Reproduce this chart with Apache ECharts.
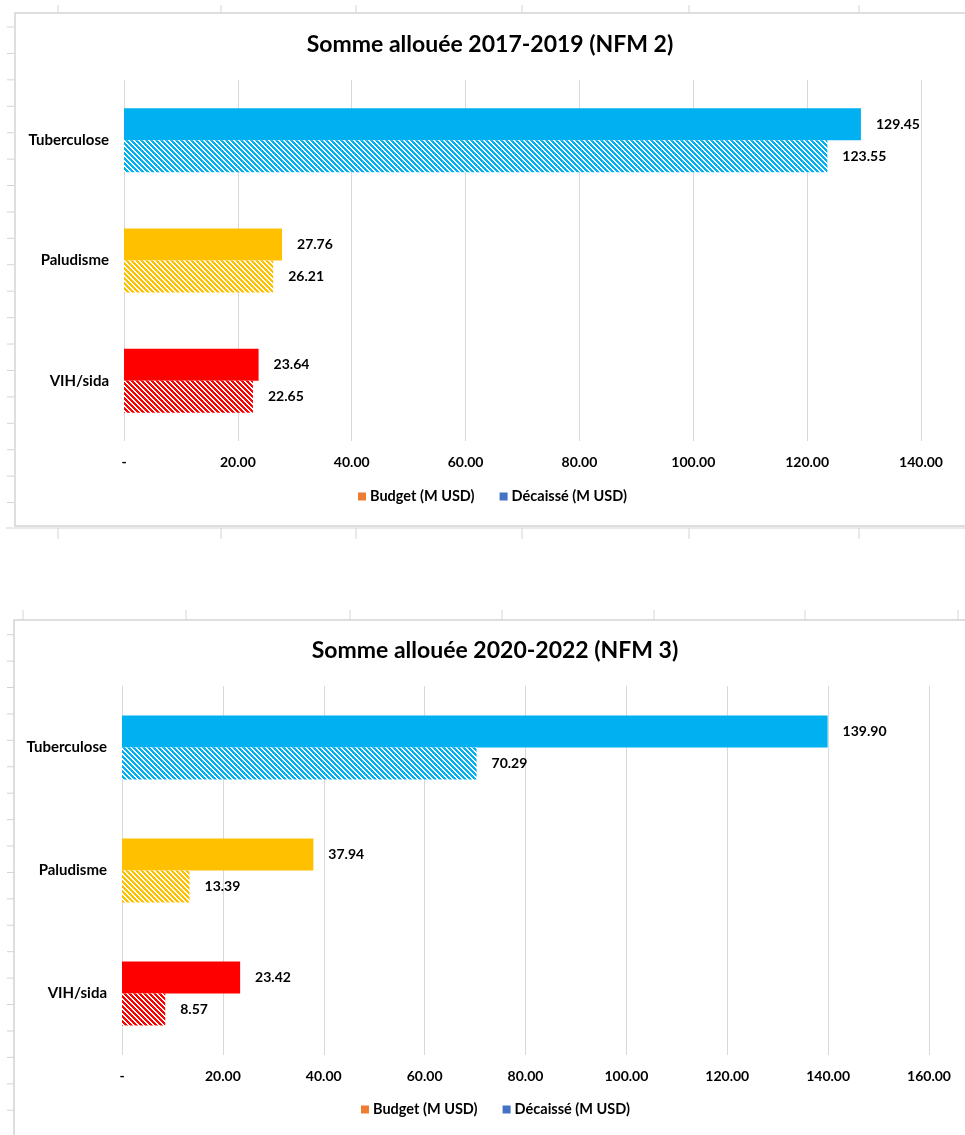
<!DOCTYPE html>
<html>
<head>
<meta charset="utf-8">
<script src="https://cdn.jsdelivr.net/npm/echarts@6/dist/echarts.min.js"></script>
<style>html,body{margin:0;padding:0;background:#fff;}#c{width:965px;height:1135px;}</style>
</head>
<body>
<div id="c"></div>
<script>
// ---- data ----
const categories = ['Tuberculose', 'Paludisme', 'VIH/sida'];
const catColors = ['#00B0F0', '#FFC000', '#FF0000'];
const title1 = 'Somme allouée 2017-2019 (NFM 2)';
const title2 = 'Somme allouée 2020-2022 (NFM 3)';
const seriesNames = ['Budget (M USD)', 'Décaissé (M USD)'];
const legendColors = ['#ED7D31', '#4472C4'];
const budget1 = [129.45, 27.76, 23.64];
const decaisse1 = [123.55, 26.21, 22.65];
const budget2 = [139.90, 37.94, 23.42];
const decaisse2 = [70.29, 13.39, 8.57];
const axisMax1 = 140, axisMax2 = 160, axisStep = 20;

// ---- helpers ----
function hatch(color) {
  const n = 5;
  const cv = document.createElement('canvas');
  cv.width = n; cv.height = n;
  const ctx = cv.getContext('2d');
  ctx.fillStyle = '#ffffff'; ctx.fillRect(0, 0, n, n);
  ctx.fillStyle = color;
  for (let y = 0; y < n; y++) for (let x = 0; x < n; x++) {
    if (((x - y) % n + n) % n < 3) ctx.fillRect(x, y, 1, 1);
  }
  return { image: cv, repeat: 'repeat' };
}
const FONT = 'Lato';
const black = '#000000';
function fmtAxis(v) { return v === 0 ? '-' : v.toFixed(2); }

function solidData(vals) { return vals.map((v, i) => ({ value: v, itemStyle: { color: catColors[i] } })); }
function hatchData(vals) { return vals.map((v, i) => ({ value: v, itemStyle: { color: hatch(catColors[i]) } })); }

const labelOpt = {
  show: true, position: 'right', distance: 15,
  color: black, fontFamily: FONT, fontWeight: 'bold', fontSize: 14,
  formatter: p => p.value.toFixed(2)
};

function xAxisOpt(idx, max) {
  return {
    type: 'value', gridIndex: idx, min: 0, max: max, interval: axisStep,
    axisLine: { show: false }, axisTick: { show: false },
    splitLine: { show: true, lineStyle: { color: '#d9d9d9', width: 1 } },
    axisLabel: { formatter: fmtAxis, color: black, fontFamily: FONT, fontWeight: 'bold', fontSize: 14, margin: 14 }
  };
}
function yAxisOpt(idx) {
  return {
    type: 'category', gridIndex: idx, data: categories, inverse: true,
    axisLine: { show: false }, axisTick: { show: false },
    axisLabel: { color: black, fontFamily: FONT, fontWeight: 'bold', fontSize: 15, margin: 15 }
  };
}
function barSeries(name, color, data, idx) {
  return {
    name: name, type: 'bar', xAxisIndex: idx, yAxisIndex: idx,
    barWidth: 32, barGap: '0%', itemStyle: { color: color },
    label: labelOpt, data: data, z: 3
  };
}

// ---- background (spreadsheet cells + chart frames) ----
const graphics = [];
const lineColor = '#d4d4d4';
graphics.push({ type: 'rect', z: -10, silent: true, shape: { x: 15, y: 13, width: 960, height: 513 }, style: { fill: '#fff', stroke: lineColor, lineWidth: 1.5 } });
graphics.push({ type: 'rect', z: -10, silent: true, shape: { x: 14, y: 620, width: 960, height: 530 }, style: { fill: '#fff', stroke: lineColor, lineWidth: 1.5 } });
graphics.push({ type: 'line', z: -10, silent: true, shape: { x1: 6, y1: 528, x2: 965, y2: 528 }, style: { stroke: lineColor, lineWidth: 1 } });
for (let k = 0; k < 44; k++) {
  const y = 27 + 26.42 * k;
  if ((y > 13 && y < 526) || (y > 620)) {
    graphics.push({ type: 'line', z: -10, silent: true, shape: { x1: 7, y1: y, x2: 14, y2: y }, style: { stroke: lineColor, lineWidth: 1 } });
  }
}
[58, 221, 356, 522, 689, 859].forEach(x => {
  graphics.push({ type: 'line', z: -10, silent: true, shape: { x1: x, y1: 5, x2: x, y2: 13 }, style: { stroke: lineColor, lineWidth: 1 } });
  graphics.push({ type: 'line', z: -10, silent: true, shape: { x1: x, y1: 528, x2: x, y2: 539 }, style: { stroke: lineColor, lineWidth: 1 } });
});
[23, 186, 350, 502, 654, 805, 958].forEach(x => {
  graphics.push({ type: 'line', z: -10, silent: true, shape: { x1: x, y1: 610, x2: x, y2: 620 }, style: { stroke: lineColor, lineWidth: 1 } });
});

const legendText = { fontFamily: FONT, fontWeight: 'bold', fontSize: 14.5, color: black, padding: [0, 0, 0, -1] };
const chart = echarts.init(document.getElementById('c'), null, { renderer: 'canvas' });
chart.setOption({
  animation: false,
  backgroundColor: '#ffffff',
  graphic: graphics,
  title: [
    { text: title1, left: 490, top: 33, textAlign: 'center', padding: 0, textStyle: { fontFamily: FONT, fontWeight: 'bold', fontSize: 23, color: black } },
    { text: title2, left: 495, top: 639, textAlign: 'center', padding: 0, textStyle: { fontFamily: FONT, fontWeight: 'bold', fontSize: 23, color: black } }
  ],
  legend: [
    { left: 358, top: 489, padding: 0, itemWidth: 8, itemHeight: 8, itemGap: 25, icon: 'rect',
      data: seriesNames.map((n, i) => ({ name: n, itemStyle: { color: legendColors[i] } })),
      textStyle: legendText },
    { left: 361, top: 1102, padding: 0, itemWidth: 8, itemHeight: 8, itemGap: 25, icon: 'rect',
      data: seriesNames.map((n, i) => ({ name: n, itemStyle: { color: legendColors[i] } })),
      textStyle: legendText }
  ],
  grid: [
    { left: 124, top: 80, width: 797, height: 361, containLabel: false, outerBoundsMode: 'none' },
    { left: 122, top: 686, width: 807, height: 369, containLabel: false, outerBoundsMode: 'none' }
  ],
  xAxis: [xAxisOpt(0, axisMax1), xAxisOpt(1, axisMax2)],
  yAxis: [yAxisOpt(0), yAxisOpt(1)],
  series: [
    barSeries(seriesNames[0], legendColors[0], solidData(budget1), 0),
    barSeries(seriesNames[1], legendColors[1], hatchData(decaisse1), 0),
    barSeries(seriesNames[0], legendColors[0], solidData(budget2), 1),
    barSeries(seriesNames[1], legendColors[1], hatchData(decaisse2), 1)
  ]
});
</script>
</body>
</html>
